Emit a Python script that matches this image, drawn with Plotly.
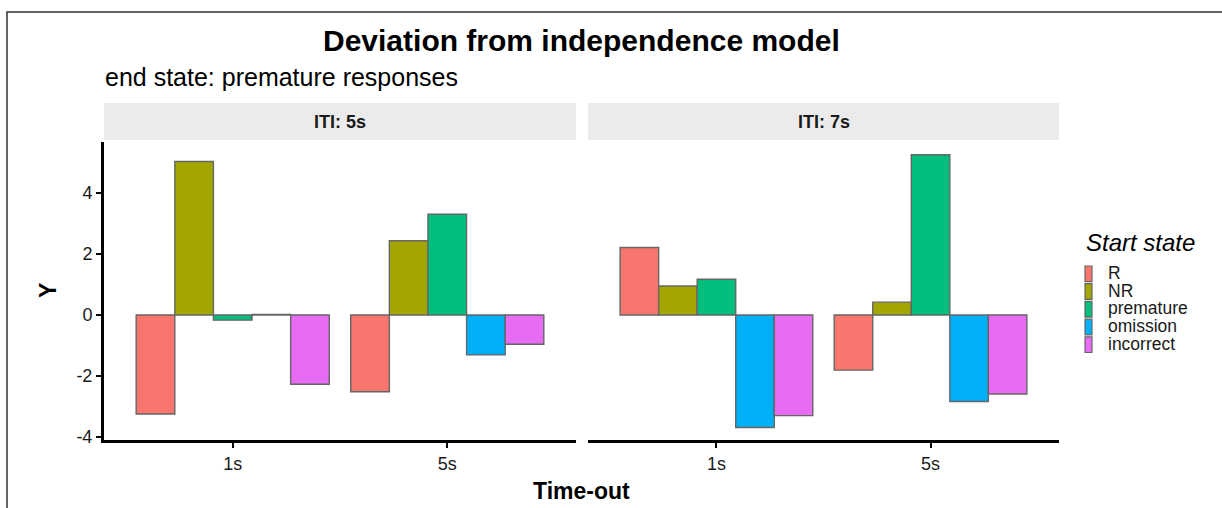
import plotly.graph_objects as go

# ---------------- data ----------------
states = ["R", "NR", "premature", "omission", "incorrect"]
colors = ["#F8766D", "#A3A500", "#00BF7D", "#00B0F6", "#E76BF3"]
timeouts = ["1s", "5s"]
panels = ["ITI: 5s", "ITI: 7s"]

# values per start state, [time-out 1s, time-out 5s]
iti5_R = [-3.25, -2.52]
iti5_NR = [5.03, 2.43]
iti5_premature = [-0.17, 3.30]
iti5_omission = [0.02, -1.31]
iti5_incorrect = [-2.27, -0.96]

iti7_R = [2.21, -1.81]
iti7_NR = [0.95, 0.42]
iti7_premature = [1.17, 5.25]
iti7_omission = [-3.69, -2.84]
iti7_incorrect = [-3.30, -2.59]

y_ticks = [-4, -2, 0, 2, 4]
y_ticklabels = ["-4", "-2", "0", "2", "4"]

panel_values = [
    [iti5_R, iti5_NR, iti5_premature, iti5_omission, iti5_incorrect],
    [iti7_R, iti7_NR, iti7_premature, iti7_omission, iti7_incorrect],
]

# ---------------- layout geometry (pixels) ----------------
W, H = 1222, 508
L, R = 104, 1059          # plot area left/right
T, B = 103, 440           # plot area top (strip top) / bottom
PW, PH = R - L, B - T
panel_top = 142
FONT = "Liberation Sans, Arial, sans-serif"


def px_x(p):
    return (p - L) / PW


def px_y(p):
    return (B - p) / PH


fig = go.Figure()

for pi, vals in enumerate(panel_values):
    xa = "x" if pi == 0 else "x2"
    ya = "y" if pi == 0 else "y2"
    for si, state in enumerate(states):
        fig.add_trace(go.Bar(
            x=timeouts, y=vals[si], name=state,
            marker=dict(color=colors[si], line=dict(color="#666666", width=1.4)),
            xaxis=xa, yaxis=ya, showlegend=False,
        ))

left_dom = [0, px_x(576)]
right_dom = [px_x(588), 1]
y_dom = [0, px_y(panel_top)]
yrange = [-4.10, 5.67]

common_x = dict(
    type="category", range=[-0.6, 1.6], showgrid=False, zeroline=False,
    showline=True, linecolor="black", linewidth=3,
    ticks="outside", ticklen=5, tickwidth=1.5, tickcolor="black",
    tickfont=dict(family=FONT, size=18, color="#1a1a1a"),
)

fig.update_layout(
    width=W, height=H,
    margin=dict(l=L, r=W - R, t=T, b=H - B, pad=0),
    paper_bgcolor="white", plot_bgcolor="white",
    barmode="group", bargap=0.1, bargroupgap=0,
    showlegend=False,
    font=dict(family=FONT, color="black"),
    xaxis=dict(domain=left_dom, anchor="y", **common_x),
    xaxis2=dict(domain=right_dom, anchor="y2", **common_x),
    yaxis=dict(domain=y_dom, anchor="x", range=yrange,
               tickmode="array", tickvals=y_ticks, ticktext=y_ticklabels,
               showgrid=False, zeroline=False, showline=True, linecolor="black",
               linewidth=3, ticks="outside", ticklen=5, tickwidth=1.5,
               tickcolor="black",
               tickfont=dict(family=FONT, size=18, color="#1a1a1a")),
    yaxis2=dict(domain=y_dom, anchor="x2", matches="y", range=yrange,
                showgrid=False, zeroline=False, showline=False,
                showticklabels=False, ticks=""),
)

shapes = []
annotations = []

# outer frame (left and top edges visible)
shapes.append(dict(type="rect", xref="paper", yref="paper",
                   x0=px_x(7), x1=px_x(1240), y0=px_y(530), y1=px_y(12),
                   line=dict(color="#333333", width=1.5), fillcolor="rgba(0,0,0,0)",
                   layer="below"))

# facet strips
strip_x = [(104, 576), (588, 1059)]
for (sx0, sx1), label in zip(strip_x, panels):
    shapes.append(dict(type="rect", xref="paper", yref="paper",
                       x0=px_x(sx0), x1=px_x(sx1), y0=px_y(140), y1=px_y(103),
                       line=dict(width=0), fillcolor="#EBEBEB", layer="below"))
    annotations.append(dict(text="<b>%s</b>" % label, xref="paper", yref="paper",
                            x=px_x((sx0 + sx1) / 2), y=px_y(122),
                            xanchor="center", yanchor="middle", showarrow=False,
                            font=dict(family=FONT, size=18, color="#1a1a1a")))

# title & subtitle
annotations.append(dict(text="<b>Deviation from independence model</b>",
                        xref="paper", yref="paper", x=px_x(581), y=px_y(40),
                        xanchor="center", yanchor="middle", showarrow=False,
                        font=dict(family=FONT, size=30, color="black")))
annotations.append(dict(text="end state: premature responses",
                        xref="paper", yref="paper", x=px_x(103), y=px_y(77),
                        xanchor="left", yanchor="middle", showarrow=False,
                        font=dict(family=FONT, size=25, color="black")))

# axis titles
annotations.append(dict(text="<b>Time-out</b>", xref="paper", yref="paper",
                        x=px_x(581), y=px_y(491), xanchor="center", yanchor="middle",
                        showarrow=False, font=dict(family=FONT, size=23, color="black")))
annotations.append(dict(text="<b>Y</b>", xref="paper", yref="paper",
                        x=px_x(48), y=px_y(291), xanchor="center", yanchor="middle",
                        textangle=-90, showarrow=False,
                        font=dict(family=FONT, size=23, color="black")))

# legend (manual, ggplot-style)
annotations.append(dict(text="<i>Start state</i>", xref="paper", yref="paper",
                        x=px_x(1084), y=px_y(242), xanchor="left", yanchor="middle",
                        showarrow=False, font=dict(family=FONT, size=24, color="black")))
key_top = 265
key_h = 17.7
for si, state in enumerate(states):
    top = key_top + si * key_h
    shapes.append(dict(type="rect", xref="paper", yref="paper",
                       x0=px_x(1085), x1=px_x(1092), y0=px_y(top + key_h - 1),
                       y1=px_y(top + 1),
                       line=dict(color="#666666", width=1.2), fillcolor=colors[si]))
    annotations.append(dict(text=state, xref="paper", yref="paper",
                            x=px_x(1106), y=px_y(top + key_h / 2 - 1),
                            xanchor="left", yanchor="middle", showarrow=False,
                            font=dict(family=FONT, size=17.5, color="#1a1a1a")))

fig.update_layout(shapes=shapes, annotations=annotations)

fig.write_html("out.html",
               config={"displayModeBar": False},
               post_script="document.body.style.margin='0';document.body.style.overflow='hidden';")
